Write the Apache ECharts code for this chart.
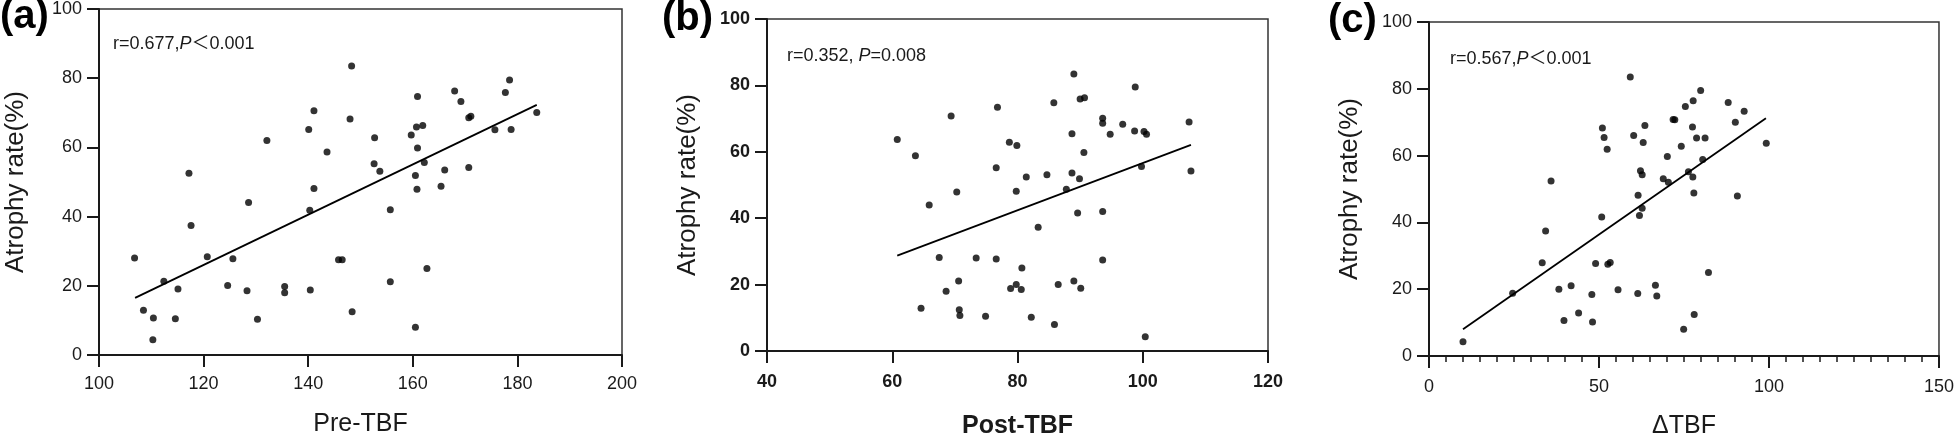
<!DOCTYPE html>
<html><head><meta charset="utf-8">
<script src="https://cdn.jsdelivr.net/npm/echarts@6/dist/echarts.min.js"></script>
<style>html,body{margin:0;padding:0;background:#fff}#c{width:1957px;height:444px}</style>
</head><body><div id="c"></div>
<script>
// ---- data ----
const preTBF = [106.8,108.5,110.4,110.3,112.4,114.6,115.1,117.2,117.6,120.7,124.6,125.6,128.3,128.6,130.3,132.1,135.5,135.5,140.1,141.1,140.3,141.1,140.4,143.6,148.3,148.0,145.8,146.5,148.4,152.7,152.6,153.7,155.7,155.7,159.7,160.9,160.7,161.9,160.9,162.2,160.5,160.8,160.5,162.7,165.4,166.1,168.0,169.2,170.7,171.1,170.7,175.7,177.7,178.5,178.8,183.7];
const rateA = [28.0,12.9,10.7,4.4,21.3,10.5,19.1,52.5,37.4,28.4,20.1,27.8,18.6,44.1,10.3,62.0,19.8,18.0,65.2,70.6,41.8,48.1,18.8,58.7,83.5,68.2,27.5,27.5,12.5,62.8,55.3,53.1,42.0,21.2,63.6,74.7,65.9,66.3,59.8,55.6,51.9,47.9,8.0,25.0,48.8,53.5,76.3,73.3,68.6,69.0,54.2,65.1,75.9,79.5,65.2,70.1];
const fitA = [[106.9,16.5],[183.7,72.3]];

const postTBF = [60.8,63.7,65.9,69.4,70.3,67.5,73.4,70.6,68.6,64.6,70.7,70.8,74.9,76.6,76.6,76.8,78.7,79.9,79.8,80.7,78.9,79.8,80.6,81.4,82.2,83.3,84.7,85.8,85.9,86.5,87.8,88.7,88.7,89.0,89.9,89.6,89.0,90.1,90.0,90.7,90.6,93.6,93.6,93.6,93.6,94.8,96.8,98.7,98.8,100.2,100.6,99.8,100.4,107.4,107.7];
const rateB = [63.7,58.8,44.0,70.8,47.9,28.2,28.0,21.1,18.0,12.9,12.4,10.7,10.5,27.7,55.2,73.4,62.9,61.9,48.1,25.0,18.8,20.0,18.5,52.4,10.2,37.3,53.1,74.8,8.0,20.0,48.7,65.4,53.6,83.4,51.9,41.6,21.1,18.9,75.9,76.3,59.8,70.1,68.6,42.0,27.4,65.3,68.3,66.3,79.5,66.1,65.3,55.6,4.3,69.0,54.2];
const fitB = [[60.8,28.7],[107.7,62.1]];

const deltaTBF = [10.0,24.6,33.3,34.3,35.9,38.2,39.7,41.8,44.0,47.9,48.1,49.0,50.8,51.0,51.5,52.4,52.6,53.3,55.6,59.2,60.2,63.0,63.5,62.2,62.7,61.5,62.7,61.9,61.4,66.6,67.0,68.9,70.4,70.1,71.8,72.3,74.2,74.9,75.4,76.3,77.5,77.6,77.9,77.7,78.0,78.7,79.9,80.5,81.2,82.2,88.0,90.1,90.7,92.7,99.2];
const rateC = [4.3,18.8,27.9,37.4,52.4,20.0,10.6,21.0,12.9,18.4,10.2,27.7,41.6,68.3,65.4,61.9,27.5,28.0,19.8,83.5,66.0,63.9,69.0,55.5,54.3,48.1,44.2,42.1,18.7,21.2,18.0,53.1,52.0,59.7,70.8,70.7,62.8,8.0,74.7,55.2,68.6,53.6,48.8,76.4,12.4,65.3,79.5,58.8,65.3,25.0,75.9,70.0,47.9,73.3,63.7];
const fitC = [[10.0,8.0],[99.1,71.2]];

const panelLabels = ['(a)','(b)','(c)'];
const xNames = ['Pre-TBF','Post-TBF','ΔTBF'];
const yName = 'Atrophy rate(%)';
const stats = ['r=0.677,{i|P}＜0.001','r=0.352, {i|P}=0.008','r=0.567,{i|P}＜0.001'];
const xRanges = [[100,200,20],[40,120,20],[0,150,50]];
const yRange = [0,100,20];

// ---- chart ----
const FF = '"Liberation Sans", Arial, "Noto Sans CJK SC", sans-serif';
const INK = '#1a1a1a';
const grids = [
  {left:99, top:7, width:523, height:348},
  {left:767, top:19, width:501, height:334},
  {left:1429, top:22, width:513, height:341}
];
const boldPanel = [false, true, false];
const xLabelMargin = [20, 22, 22];
const xNameGap = [57, 63, 58];
const yNameGap = [70, 66, 66];

const pts = [preTBF.map((x,i)=>[x,rateA[i]]), postTBF.map((x,i)=>[x,rateB[i]]), deltaTBF.map((x,i)=>[x,rateC[i]])];
const fits = [fitA, fitB, fitC];

const option = {
  animation:false,
  backgroundColor:'#fff',
  grid: grids.map(g=>Object.assign({show:true, borderColor:'#333', borderWidth:1.5, containLabel:false}, g)),
  xAxis: xRanges.map((r,i)=>({
    type:'value', gridIndex:i, min:r[0], max:r[1], interval:r[2],
    name:xNames[i], nameLocation:'middle', nameGap:xNameGap[i],
    nameTextStyle:{fontFamily:FF, fontSize:25, color:INK, fontWeight: boldPanel[i]?'bold':'normal'},
    axisLine:{show:true, onZero:false, lineStyle:{color:INK, width:2}},
    axisTick:{show:true, length:12, lineStyle:{color:INK, width:2}},
    minorTick: i===2 ? {show:true, splitNumber:10, length:6, lineStyle:{color:INK, width:1.5}} : {show:false},
    axisLabel:{fontFamily:FF, fontSize:18, color:INK, margin:xLabelMargin[i], fontWeight: boldPanel[i]?'bold':'normal'},
    splitLine:{show:false}
  })),
  yAxis: [0,1,2].map(i=>({
    type:'value', gridIndex:i, min:yRange[0], max:yRange[1], interval:yRange[2],
    name:yName, nameLocation:'middle', nameGap:yNameGap[i],
    nameTextStyle:{fontFamily:FF, fontSize:26, color:INK},
    axisLine:{show:true, onZero:false, lineStyle:{color:INK, width:2}},
    axisTick:{show:true, length:12, lineStyle:{color:INK, width:2}},
    axisLabel:{fontFamily:FF, fontSize:18, color:INK, margin:17, fontWeight: boldPanel[i]?'bold':'normal'},
    splitLine:{show:false}
  })),
  title: [
    {text:panelLabels[0], left:0, top:-3, padding:0, textStyle:{fontFamily:FF, fontSize:40, fontWeight:'bold', color:'#000'}},
    {text:panelLabels[1], left:662, top:-1, padding:0, textStyle:{fontFamily:FF, fontSize:40, fontWeight:'bold', color:'#000'}},
    {text:panelLabels[2], left:1328, top:1, padding:0, textStyle:{fontFamily:FF, fontSize:40, fontWeight:'bold', color:'#000'}},
    ...stats.map((s,i)=>({text:s, left:[113,787,1450][i], top:[35,47,50][i], padding:0,
      textStyle:{fontFamily:FF, fontSize:18, fontWeight:'normal', color:INK,
        rich:{i:{fontFamily:FF, fontSize:18, fontStyle:'italic', color:INK}}}}))
  ],
  series: [
    ...pts.map((d,i)=>({type:'scatter', xAxisIndex:i, yAxisIndex:i, data:d, symbolSize:7, itemStyle:{color:'#000'}, silent:true})),
    ...fits.map((d,i)=>({type:'line', xAxisIndex:i, yAxisIndex:i, data:d, symbol:'none', lineStyle:{color:'#000', width:1.8}, silent:true}))
  ]
};
const chart = echarts.init(document.getElementById('c'), null, {renderer:'canvas'});
chart.setOption(option);
</script>
</body></html>
